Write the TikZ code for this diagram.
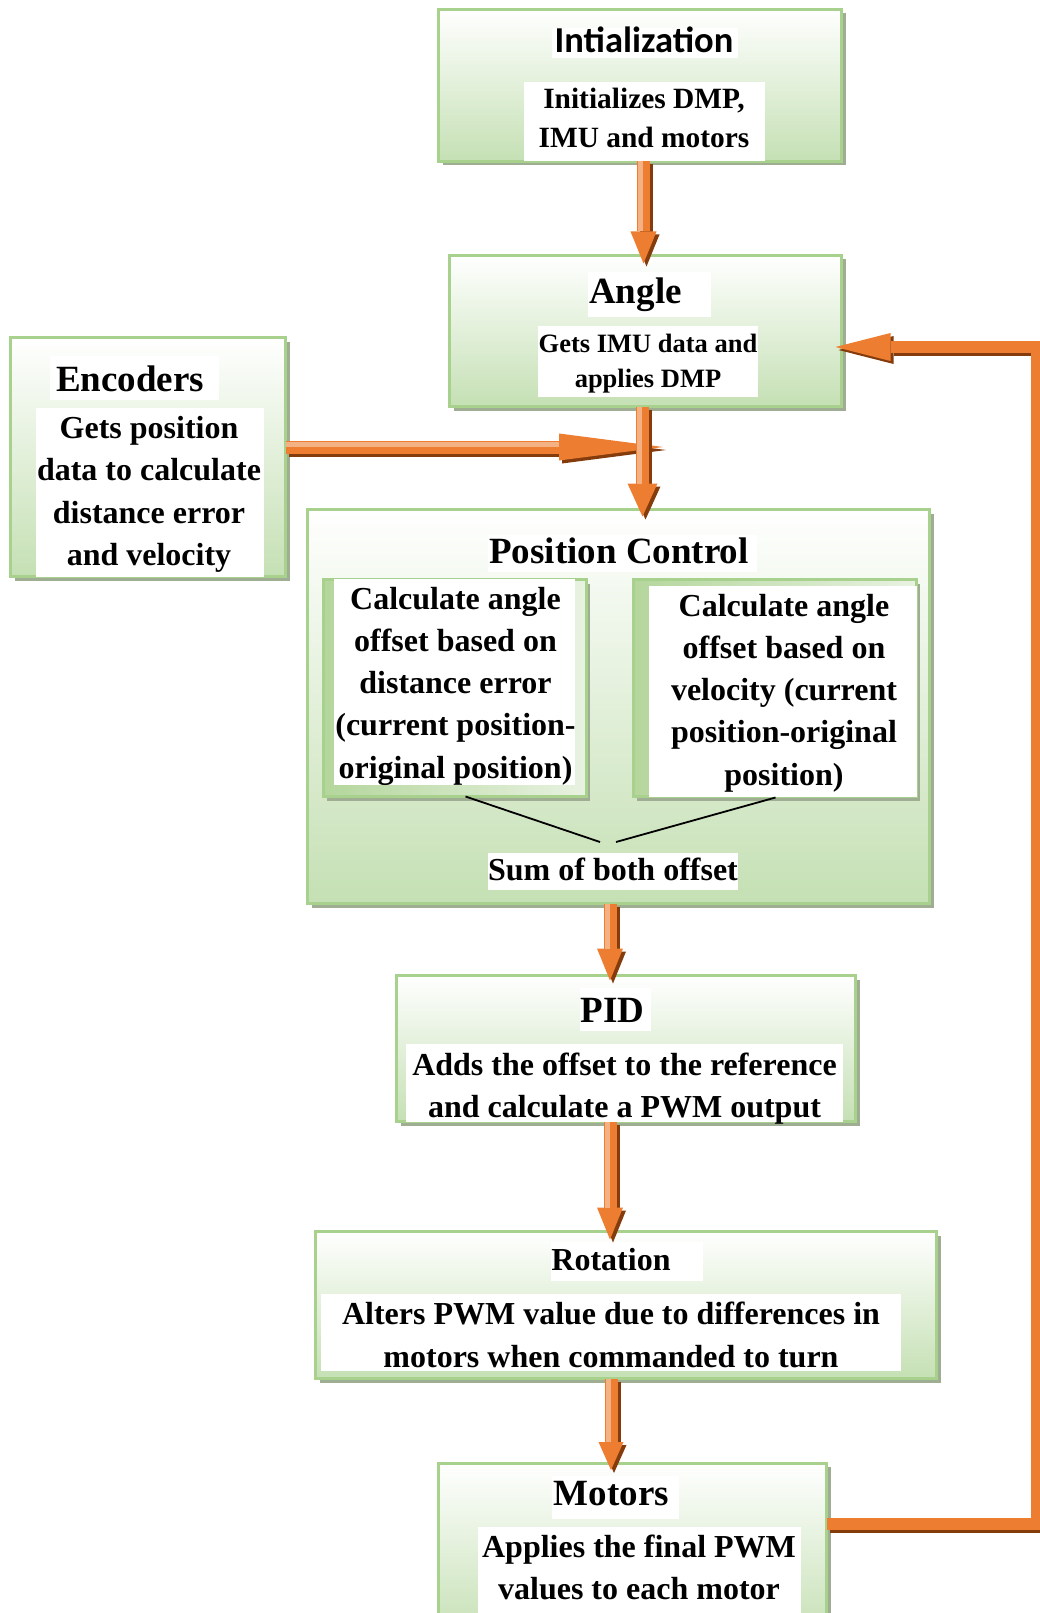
\documentclass[tikz,border=0pt]{standalone}
\usepackage{fontspec}
\setmainfont{Liberation Serif}
\newfontfamily\calibfont{Carlito}
\usetikzlibrary{arrows.meta,shadows,calc}

\definecolor{boxgreen}{HTML}{C5E0B4}
\definecolor{boxline}{HTML}{A9D18E}
\definecolor{boxshade}{HTML}{9FAE93}
\definecolor{subgreen}{HTML}{B4D69C}
\definecolor{subpale}{HTML}{E8F2E1}
\definecolor{arrorange}{HTML}{ED7D31}
\definecolor{arrdark}{HTML}{843C0C}
\definecolor{arrlight}{HTML}{F4B183}

\newcommand\setfs[2]{\fontsize{#1}{#2}\selectfont}

% block arrow: shadow, body, and a light stripe along the shaft
% #1 tip size, #2 stripe canvas shift, #3 stripe shortening, #4 path
\newcommand\flowarrow[4]{%
  \draw[arrshadow, -{Triangle[#1,line width=0pt]}] #4;
  \draw[arrbody, -{Triangle[#1,line width=0pt]}] #4;
  \draw[arrstripe, transform canvas={#2}, shorten >=#3] #4;
}

\begin{document}
\begin{tikzpicture}[x=1pt,y=-1pt,
  stage/.style={draw=boxline, line width=3pt, top color=white, bottom color=boxgreen,
    inner sep=0pt, outer sep=0pt,
    drop shadow={shadow xshift=4pt, shadow yshift=-4pt, fill=boxshade, opacity=1}},
  substage/.style={stage, left color=subgreen, right color=subpale},
  ttl/.style={inner sep=0pt, anchor=base, font=\bfseries\setfs{37}{44}},
  txt/.style={inner sep=0pt, anchor=north, align=center, font=\bfseries\setfs{32}{42.5}},
  arrbody/.style={draw=arrorange, line width=13pt, line join=miter},
  arrshadow/.style={draw=arrdark, line width=13pt, line join=miter,
    transform canvas={xshift=3pt, yshift=-3pt}},
  arrstripe/.style={draw=arrlight, line width=5pt},
  sumline/.style={draw=black, line width=1.8pt},
]
\useasboundingbox (0,0) rectangle (1039,1613);

% ---- stage boxes ----
\node[stage, minimum width=403pt, minimum height=152pt] (init) at (640,85.5) {};
\node[stage, minimum width=392pt, minimum height=151pt] (angle) at (645.5,331) {};
\node[stage, minimum width=275pt, minimum height=239pt] (enc) at (148,457) {};
\node[stage, minimum width=622pt, minimum height=394pt] (pc) at (618.5,706.5) {};
\node[substage, minimum width=263pt, minimum height=217pt] (pcl) at (454.5,688) {};
\node[substage, minimum width=283pt, minimum height=217pt] (pcr) at (774.5,688) {};
\node[stage, minimum width=459pt, minimum height=146pt] (pid) at (626,1048.5) {};
\node[stage, minimum width=621pt, minimum height=147pt] (rot) at (626,1305) {};
\node[stage, minimum width=388pt, minimum height=176pt] (mot) at (632.5,1551) {};

% ---- white grounds behind the labels ----
\fill[white] (552,28) rectangle (738,58);
\fill[white] (524,82) rectangle (765,161);
\fill[white] (588,272) rectangle (711,317);
\fill[white] (538,326) rectangle (758,397);
\fill[white] (50,356) rectangle (219,400);
\fill[white] (36,408) rectangle (264,577);
\fill[white] (488,535) rectangle (757,572);
\fill[white] (334,579) rectangle (575,785);
\fill[white] (649,586) rectangle (917,797);
\fill[white] (488,853) rectangle (738,890);
\fill[white] (580,988) rectangle (651,1031);
\fill[white] (406,1044) rectangle (843,1122);
\fill[white] (551,1242) rectangle (703,1281);
\fill[white] (321,1294) rectangle (901,1371);
\fill[white] (552,1476) rectangle (679,1519);
\fill[white] (478,1527) rectangle (801,1620);

% ---- labels ----
\node[ttl, font=\calibfont\bfseries\setfs{36.5}{44}] (initttl) at (644,53) {Intialization};
\node[txt, font=\bfseries\setfs{29.4}{39}] (initbody) at (644,80.7)
  {\strut Initializes DMP,\\\strut IMU and motors};

\node[ttl] (anglettl) at (635.5,303) {Angle};
\node[txt, font=\bfseries\setfs{26.5}{35}] (anglebody) at (648,327.5)
  {\strut Gets IMU data and\\\strut applies DMP};

\node[ttl] (encttl) at (130,391) {Encoders};
\node[txt] (encbody) at (149,408.25)
  {\strut Gets position\\\strut data to calculate\\\strut distance error\\\strut and velocity};

\node[ttl] (pcttl) at (619,563) {Position Control};
\node[txt, font=\bfseries\setfs{32}{42.2}] (pclbody) at (455.5,579.5)
  {\strut Calculate angle\\\strut offset based on\\\strut distance error\\\strut (current position-\\\strut original position)};
\node[txt, font=\bfseries\setfs{32}{42.2}] (pcrbody) at (784,586.5)
  {\strut Calculate angle\\\strut offset based on\\\strut velocity (current\\\strut position-original\\\strut position)};
\node[ttl, font=\bfseries\setfs{32}{40}] (sum) at (613,880) {Sum of both offset};

\node[ttl] (pidttl) at (612.5,1022) {PID};
\node[txt, font=\bfseries\setfs{32}{42}] (pidbody) at (624.5,1045.6)
  {\strut Adds the offset to the reference\\\strut and calculate a PWM output};

\node[ttl, font=\bfseries\setfs{32}{40}] (rotttl) at (611,1270) {Rotation};
\node[txt, font=\bfseries\setfs{32}{43}] (rotbody) at (611,1293.9)
  {\strut Alters PWM value due to differences in\\\strut motors when commanded to turn};

\node[ttl] (motttl) at (611.5,1505) {Motors};
\node[txt, font=\bfseries\setfs{32}{42}] (motbody) at (639,1527.6)
  {\strut Applies the final PWM\\\strut values to each motor};

% ---- links inside Position Control ----
\coordinate (sumL) at (600,842);
\coordinate (sumR) at (616,842);
\draw[sumline] ($(pcl.south)+(11,0)$) -- (sumL);
\draw[sumline] ($(pcr.south)+(1,1)$) -- (sumR);

% ---- flow arrows ----
\coordinate (join) at (642.5,447);
\flowarrow{width=27pt,length=104pt}{yshift=3pt}{104pt}
  {($(enc.east)+(0,-10)$) -- ($(join)+(20.5,0)$)}
\flowarrow{width=26pt,length=32pt}{xshift=-3pt}{32pt}
  {($(init.south)+(3.5,0)$) -- ($(angle.north)+(-2,8)$)}
\flowarrow{width=30pt,length=33pt}{xshift=-3pt}{33pt}
  {($(angle.south)+(-3,0)$) -- ($(pc.north)+(24,7)$)}
\flowarrow{width=26pt,length=32pt}{xshift=-3pt}{32pt}
  {($(pc.south)+(-8.5,0)$) -- ($(pid.north)+(-16,5)$)}
\flowarrow{width=26pt,length=32pt}{xshift=-3pt}{32pt}
  {($(pid.south)+(-16,0)$) -- ($(rot.north)+(-16,8)$)}
\flowarrow{width=25pt,length=28pt}{xshift=-3pt}{28pt}
  {($(rot.south)+(-15,0)$) -- ($(mot.north)+(-21.5,7)$)}

% ---- feedback from the motors back to the angle stage ----
\coordinate (fbB) at (1037,1524);
\coordinate (fbT) at (1037,347);
\draw[arrshadow, line width=12pt, -{Triangle[width=28pt,length=55pt,line width=0pt]}]
  (mot.east |- fbB) -- (fbB) -- (fbT) -- ($(angle.east |- fbT)+(-6,0)$);
\draw[arrbody, line width=12pt, -{Triangle[width=28pt,length=55pt,line width=0pt]}]
  (mot.east |- fbB) -- (fbB) -- (fbT) -- ($(angle.east |- fbT)+(-6,0)$);
\end{tikzpicture}
\end{document}
